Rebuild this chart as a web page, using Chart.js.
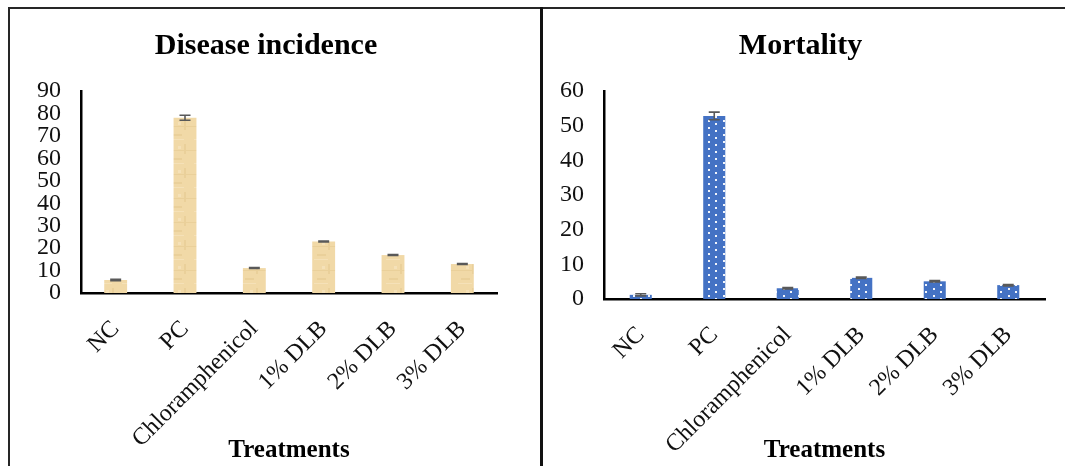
<!DOCTYPE html>
<html>
<head>
<meta charset="utf-8">
<script src="https://cdn.jsdelivr.net/npm/chart.js@4.4.1/dist/chart.umd.min.js"></script>
<style>
  body { margin: 0; background: #fff; }
  #wrap { position: relative; width: 1065px; height: 466px; overflow: hidden; background: #fff; }
  .panel { position: absolute; top: 0; height: 466px; }
  #left { left: 0; width: 541px; }
  #right { left: 541px; width: 524px; }
  .line { position: absolute; background: #262626; }
</style>
</head>
<body>
<div id="wrap">
  <div class="panel" id="left"><canvas id="chartDisease" width="541" height="466"></canvas></div>
  <div class="panel" id="right"><canvas id="chartMortality" width="524" height="466"></canvas></div>
  <div class="line" style="left:8px;top:7px;width:1057px;height:2px"></div>
  <div class="line" style="left:8px;top:7px;width:2px;height:459px"></div>
  <div class="line" style="left:540px;top:7px;width:3px;height:459px;background:#111"></div>
</div>
<script>
const treatments = ['NC', 'PC', 'Chloramphenicol', '1% DLB', '2% DLB', '3% DLB'];
const diseaseIncidence = [5.8, 78.1, 11.1, 22.9, 16.9, 12.9];
const diseaseErr = [0.3, 1.1, 0.2, 0.2, 0.2, 0.2];
const mortality = [1.2, 52.8, 3.1, 6.1, 5.1, 4.0];
const mortalityErr = [0.3, 1.1, 0.2, 0.2, 0.2, 0.2];

const serif = '"Liberation Serif", "Times New Roman", serif';

// papyrus-like beige fill
function beigePattern() {
  const c = document.createElement('canvas');
  c.width = 24; c.height = 24;
  const g = c.getContext('2d');
  g.fillStyle = '#F1D9A7';
  g.fillRect(0, 0, 24, 24);
  g.fillStyle = '#EAD09A';
  g.fillRect(0, 6, 24, 1);
  g.fillRect(5, 14, 9, 2);
  g.fillRect(16, 0, 2, 10);
  g.fillStyle = '#F5E1B8';
  g.fillRect(2, 19, 14, 1);
  g.fillRect(10, 2, 3, 3);
  return c.getContext('2d').createPattern(c, 'repeat');
}

// blue with small white dots
function dotPattern() {
  const c = document.createElement('canvas');
  c.width = 15; c.height = 7;
  const g = c.getContext('2d');
  g.fillStyle = '#4472C4';
  g.fillRect(0, 0, 15, 7);
  g.fillStyle = '#F2F5FB';
  g.fillRect(2, 1, 2, 2);
  g.fillRect(9, 4, 2, 2);
  return c.getContext('2d').createPattern(c, 'repeat');
}

const errorBars = {
  id: 'errorBars',
  afterDatasetsDraw(chart, args, opts) {
    const ctx = chart.ctx;
    const meta = chart.getDatasetMeta(0);
    const yScale = chart.scales.y;
    const vals = chart.data.datasets[0].data;
    ctx.save();
    ctx.strokeStyle = '#595959';
    ctx.lineWidth = 1.6;
    meta.data.forEach((bar, i) => {
      const e = opts.errors[i];
      const yTop = yScale.getPixelForValue(vals[i] + e);
      const yBot = yScale.getPixelForValue(vals[i] - e);
      const half = 5.5;
      ctx.beginPath();
      ctx.moveTo(bar.x, yTop); ctx.lineTo(bar.x, yBot);
      ctx.moveTo(bar.x - half, yTop); ctx.lineTo(bar.x + half, yTop);
      ctx.moveTo(bar.x - half, yBot); ctx.lineTo(bar.x + half, yBot);
      ctx.stroke();
    });
    ctx.restore();
  }
};

function makeChart(id, title, values, errors, yMax, fill, barPct, pad, yWidth, xHeight) {
  return new Chart(document.getElementById(id), {
    type: 'bar',
    data: {
      labels: treatments,
      datasets: [{
        data: values,
        backgroundColor: fill,
        borderWidth: 0,
        barPercentage: barPct,
        categoryPercentage: 1
      }]
    },
    options: {
      responsive: false,
      animation: false,
      layout: { padding: pad },
      plugins: {
        legend: { display: false },
        tooltip: { enabled: false },
        title: {
          display: true,
          text: title,
          color: '#000',
          font: { family: serif, size: 30, weight: 'bold' },
          padding: { top: 28, bottom: 27 }
        },
        errorBars: { errors: errors }
      },
      scales: {
        x: {
          grid: { display: false, drawTicks: false },
          border: { display: true, color: '#000', width: 2.5 },
          ticks: {
            color: '#111',
            font: { family: serif, size: 24 },
            minRotation: 45,
            maxRotation: 45,
            autoSkip: false,
            padding: 22
          },
          title: {
            display: true,
            text: 'Treatments',
            color: '#000',
            font: { family: serif, size: 25, weight: 'bold' },
            padding: { top: 0, bottom: 0 }
          },
          afterFit: (s) => { s.height = xHeight; }
        },
        y: {
          min: 0,
          max: yMax,
          grid: { display: false, drawTicks: false },
          border: { display: true, color: '#000', width: 2.5 },
          ticks: {
            stepSize: 10,
            autoSkip: false,
            color: '#111',
            font: { family: serif, size: 24 },
            padding: 20
          },
          afterFit: (s) => { s.width = yWidth; }
        }
      }
    },
    plugins: [errorBars]
  });
}

makeChart('chartDisease', 'Disease incidence', diseaseIncidence, diseaseErr, 90, beigePattern(), 0.33,
  { top: 0, left: 35, right: 44, bottom: 0 }, 46, 173);
makeChart('chartMortality', 'Mortality', mortality, mortalityErr, 60, dotPattern(), 0.3,
  { top: 0, left: 15, right: 20, bottom: 0 }, 48, 167);
</script>
</body>
</html>
